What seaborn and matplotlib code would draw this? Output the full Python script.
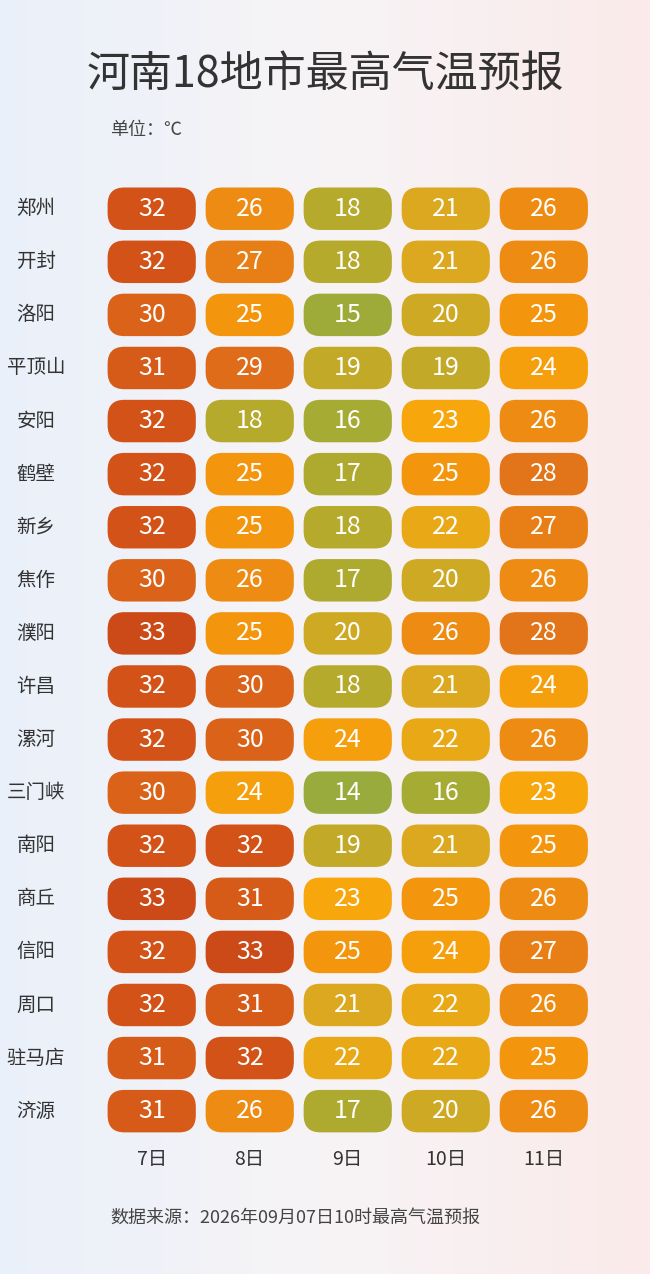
import numpy as np
import pandas as pd
import matplotlib
matplotlib.use("Agg")
import matplotlib.pyplot as plt
import seaborn as sns
from matplotlib.patches import FancyBboxPatch
from matplotlib.colors import LinearSegmentedColormap, Normalize

cities = ["郑州","开封","洛阳","平顶山","安阳","鹤壁","新乡","焦作","濮阳","许昌","漯河","三门峡","南阳","商丘","信阳","周口","驻马店","济源"]
days = ["7日","8日","9日","10日","11日"]
d7 = [32,32,30,31,32,32,32,30,33,32,32,30,32,33,32,32,31,31]
d8 = [26,27,25,29,18,25,25,26,25,30,30,24,32,31,33,31,32,26]
d9 = [18,18,15,19,16,17,18,17,20,18,24,14,19,23,25,21,22,17]
d10 = [21,21,20,19,23,25,22,20,26,21,22,16,21,25,24,22,22,20]
d11 = [26,26,25,24,26,28,27,26,28,24,26,23,25,26,27,26,25,26]

sns.set_theme(style="white")
plt.rcParams['font.family'] = ['Noto Sans CJK SC', 'DejaVu Sans']

df = pd.DataFrame({"7日": d7, "8日": d8, "9日": d9, "10日": d10, "11日": d11}, index=cities)

cmap = LinearSegmentedColormap.from_list("t", [
    (0.0, "#98ab3c"), (0.21, "#b5aa2c"), (0.37, "#dba820"), (0.47, "#f7a80c"),
    (0.58, "#f3960e"), (0.74, "#e2741a"), (0.89, "#d85c18"), (1.0, "#cc4a18")])
norm = Normalize(vmin=14, vmax=33)

fig = plt.figure(figsize=(6.5, 12.74), dpi=100)
bg = fig.add_axes([0, 0, 1, 1])
grad = np.linspace(0, 1, 256)[None, :]
bgc = LinearSegmentedColormap.from_list("bg", ["#eaf0fa", "#f7f4f6", "#fbeaea"])
bg.imshow(grad, aspect="auto", cmap=bgc, extent=[0, 1, 0, 1])
bg.axis("off")

ax = fig.add_axes([0.158, 0.107, 0.754, 0.750])
sns.heatmap(df, ax=ax, cmap=cmap, norm=norm, cbar=False, annot=True, fmt="d",
            annot_kws={"color": "white", "fontsize": 18})
ax.collections[0].set_alpha(0)
for i, c in enumerate(cities):
    for j, d in enumerate(days):
        v = df.loc[c, d]
        ax.add_patch(FancyBboxPatch((j + 0.05, i + 0.1), 0.9, 0.8,
                                    boxstyle="round,pad=0,rounding_size=0.17",
                                    mutation_aspect=1.9,
                                    fc=cmap(norm(v)), ec="none", zorder=1))
for t in ax.texts:
    t.set_zorder(3)
ax.set_facecolor("none")
ax.patch.set_alpha(0)
ax.tick_params(length=0)
ax.set_yticklabels(cities, rotation=0, fontsize=14, color="#333333")
ax.set_xticklabels(days, fontsize=14, color="#333333")
for lab in ax.get_yticklabels():
    lab.set_horizontalalignment("center")
ax.tick_params(axis="y", pad=48)
ax.tick_params(axis="x", pad=8)
ax.set_xlabel(""); ax.set_ylabel("")
for s in ax.spines.values():
    s.set_visible(False)

fig.text(0.5, 1 - 75/1274, "河南18地市最高气温预报", ha="center", va="center",
         fontsize=31, color="#333333")
fig.text(110/650, 1 - 130/1274, "单位：℃", ha="left", va="center", fontsize=13, color="#444444")
fig.text(110/650, 1 - 1218/1274, "数据来源：2026年09月07日10时最高气温预报", ha="left", va="center",
         fontsize=13, color="#444444")

fig.savefig("out.png", dpi=100)
